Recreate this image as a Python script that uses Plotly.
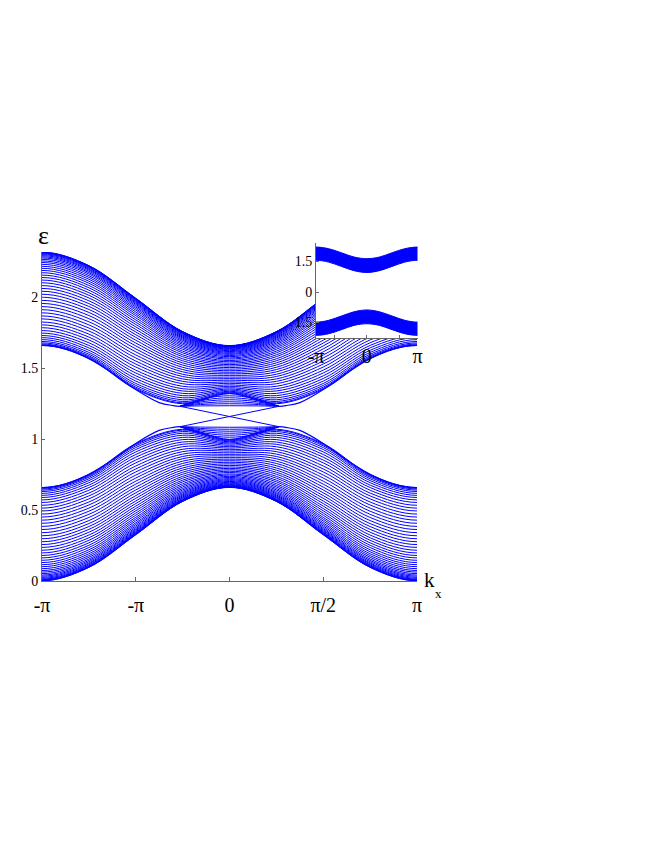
import math
import plotly.graph_objects as go

PI = math.pi

# ---------------- data ----------------
# k positions (in units of pi) where every sub-band line was read; the
# spectrum is symmetric in k, so each line is read on 0..pi and mirrored.
k_read = [0.0, 0.25, 0.5, 0.75, 1.0]

# lower band, one entry per sub-band line (top line first)
lower_k0 = [0.999, 0.997, 0.993, 0.988, 0.982, 0.974, 0.966, 0.957, 0.947, 0.937, 0.926, 0.916,
            0.904, 0.893, 0.882, 0.870, 0.859, 0.848, 0.837, 0.826, 0.815, 0.804, 0.794, 0.784,
            0.774, 0.765, 0.755, 0.747, 0.738, 0.730, 0.722, 0.715, 0.708, 0.702, 0.696, 0.690,
            0.685, 0.680, 0.676, 0.672, 0.669, 0.666, 0.664, 0.662, 0.661, 0.660]
lower_k1 = [1.070, 1.064, 1.054, 1.042, 1.028, 1.013, 0.997, 0.980, 0.964, 0.947, 0.929, 0.912,
            0.895, 0.878, 0.862, 0.845, 0.829, 0.813, 0.797, 0.782, 0.767, 0.753, 0.738, 0.725,
            0.711, 0.699, 0.686, 0.674, 0.663, 0.652, 0.642, 0.632, 0.623, 0.615, 0.607, 0.600,
            0.593, 0.587, 0.581, 0.576, 0.572, 0.569, 0.566, 0.563, 0.562, 0.561]
lower_k2 = [0.968, 0.962, 0.953, 0.941, 0.927, 0.910, 0.892, 0.873, 0.853, 0.833, 0.811, 0.790,
            0.769, 0.747, 0.726, 0.704, 0.683, 0.662, 0.642, 0.622, 0.602, 0.583, 0.564, 0.546,
            0.528, 0.511, 0.495, 0.479, 0.464, 0.449, 0.436, 0.423, 0.410, 0.399, 0.388, 0.378,
            0.369, 0.361, 0.354, 0.347, 0.342, 0.337, 0.333, 0.330, 0.327, 0.326]
lower_k3 = [0.751, 0.747, 0.740, 0.732, 0.721, 0.708, 0.693, 0.676, 0.659, 0.640, 0.620, 0.600,
            0.579, 0.557, 0.536, 0.514, 0.492, 0.470, 0.448, 0.426, 0.405, 0.384, 0.364, 0.344,
            0.324, 0.305, 0.287, 0.269, 0.252, 0.236, 0.220, 0.206, 0.192, 0.179, 0.167, 0.155,
            0.145, 0.136, 0.127, 0.120, 0.113, 0.108, 0.103, 0.100, 0.097, 0.096]
lower_k4 = [0.659, 0.655, 0.649, 0.641, 0.631, 0.618, 0.604, 0.589, 0.572, 0.554, 0.534, 0.514,
            0.494, 0.472, 0.451, 0.429, 0.407, 0.385, 0.363, 0.341, 0.319, 0.298, 0.277, 0.257,
            0.237, 0.217, 0.198, 0.180, 0.163, 0.146, 0.130, 0.115, 0.101, 0.087, 0.074, 0.063,
            0.052, 0.042, 0.034, 0.026, 0.019, 0.013, 0.009, 0.005, 0.002, 0.001]

# upper band, one entry per sub-band line (bottom line first)
upper_k0 = [1.321, 1.323, 1.327, 1.332, 1.338, 1.346, 1.354, 1.363, 1.373, 1.383, 1.394, 1.404,
            1.416, 1.427, 1.438, 1.450, 1.461, 1.472, 1.483, 1.494, 1.505, 1.516, 1.526, 1.536,
            1.546, 1.555, 1.565, 1.573, 1.582, 1.590, 1.598, 1.605, 1.612, 1.618, 1.624, 1.630,
            1.635, 1.640, 1.644, 1.648, 1.651, 1.654, 1.656, 1.658, 1.659, 1.660]
upper_k1 = [1.250, 1.256, 1.266, 1.278, 1.292, 1.307, 1.323, 1.340, 1.356, 1.373, 1.391, 1.408,
            1.425, 1.442, 1.458, 1.475, 1.491, 1.507, 1.523, 1.538, 1.553, 1.567, 1.582, 1.595,
            1.609, 1.621, 1.634, 1.646, 1.657, 1.668, 1.678, 1.688, 1.697, 1.705, 1.713, 1.720,
            1.727, 1.733, 1.739, 1.744, 1.748, 1.751, 1.754, 1.757, 1.758, 1.759]
upper_k2 = [1.352, 1.358, 1.367, 1.379, 1.393, 1.410, 1.428, 1.447, 1.467, 1.487, 1.509, 1.530,
            1.551, 1.573, 1.594, 1.616, 1.637, 1.658, 1.678, 1.698, 1.718, 1.737, 1.756, 1.774,
            1.792, 1.809, 1.825, 1.841, 1.856, 1.871, 1.884, 1.897, 1.910, 1.921, 1.932, 1.942,
            1.951, 1.959, 1.966, 1.973, 1.978, 1.983, 1.987, 1.990, 1.993, 1.994]
upper_k3 = [1.569, 1.573, 1.580, 1.588, 1.599, 1.612, 1.627, 1.644, 1.661, 1.680, 1.700, 1.720,
            1.741, 1.763, 1.784, 1.806, 1.828, 1.850, 1.872, 1.894, 1.915, 1.936, 1.956, 1.976,
            1.996, 2.015, 2.033, 2.051, 2.068, 2.084, 2.100, 2.114, 2.128, 2.141, 2.153, 2.165,
            2.175, 2.184, 2.193, 2.200, 2.207, 2.212, 2.217, 2.220, 2.223, 2.224]
upper_k4 = [1.661, 1.665, 1.671, 1.679, 1.689, 1.702, 1.716, 1.731, 1.748, 1.766, 1.786, 1.806,
            1.826, 1.848, 1.869, 1.891, 1.913, 1.935, 1.957, 1.979, 2.001, 2.022, 2.043, 2.063,
            2.083, 2.103, 2.122, 2.140, 2.157, 2.174, 2.190, 2.205, 2.219, 2.233, 2.246, 2.257,
            2.268, 2.278, 2.286, 2.294, 2.301, 2.307, 2.311, 2.315, 2.318, 2.319]

# edge-state lines: outer envelope part (k in units of pi, left half)
edge_k = [-1.125, -1.0, -0.875, -0.75, -0.625, -0.5, -0.375, -0.3, -0.264]
edge_lower = [0.683, 0.659, 0.683, 0.752, 0.853, 0.970, 1.062, 1.083, 1.088]
edge_upper = [1.637, 1.661, 1.637, 1.568, 1.467, 1.350, 1.258, 1.237, 1.232]
# straight crossing part of the two edge states
cross_k = [-0.264, 0.264]
cross_a = [1.088, 1.232]
cross_b = [1.232, 1.088]

# lens-shaped bundles near the gap (k in units of pi)
lens_k = [-0.264, -0.13, 0.0, 0.13, 0.264]
lens_lower = [[1.088, 1.085, 1.084, 1.085, 1.088],
              [1.088, 1.074, 1.070, 1.074, 1.088],
              [1.088, 1.064, 1.056, 1.064, 1.088],
              [1.088, 1.053, 1.042, 1.053, 1.088],
              [1.088, 1.043, 1.028, 1.043, 1.088],
              [1.088, 1.032, 1.014, 1.032, 1.088]]
lens_upper = [[1.232, 1.235, 1.236, 1.235, 1.232],
              [1.232, 1.246, 1.250, 1.246, 1.232],
              [1.232, 1.256, 1.264, 1.256, 1.232],
              [1.232, 1.267, 1.278, 1.267, 1.232],
              [1.232, 1.277, 1.292, 1.277, 1.232],
              [1.232, 1.288, 1.306, 1.288, 1.232]]

# inset: band edges read at k = 0, pi/4, pi/2, 3pi/4, pi
inset_up_top = [1.64, 1.72, 1.93, 2.13, 2.21]
inset_up_bot = [0.96, 1.05, 1.26, 1.47, 1.56]
inset_lo_top = [-0.88, -0.97, -1.18, -1.39, -1.48]
inset_lo_bot = [-1.56, -1.64, -1.85, -2.05, -2.13]

# axis ticks
main_xtick_vals = [-1.0, -0.5, 0.0, 0.5, 1.0]          # units of pi
main_xtick_text = ["-π", "-π", "0", "π/2", "π"]
main_ytick_vals = [0, 0.5, 1, 1.5, 2]
main_ytick_text = ["0", "0.5", "1", "1.5", "2"]
inset_xtick_vals = [-PI, -2, 0, 2, PI]
inset_xtick_text = ["-π", "", "0", "", "π"]
inset_ytick_vals = [-1.5, 0, 1.5]
inset_ytick_text = ["1.5", "0", "1.5"]

# ---------------- build figure ----------------
BLUE = "#0000ff"
FONT = "Liberation Serif"
AX = "#666666"
W, H = 654, 846
OFF = 8  # page body margin: figure is drawn 8px right/down in the window


def px(x):
    return (x - OFF) / W


def py(y):
    return 1 - (y - OFF) / H


def full_line(vals):
    """vals read at k=0,pi/4,pi/2,3pi/4,pi -> mirrored line over [-5pi/4, 5pi/4]."""
    v0, v1, v2, v3, v4 = vals
    xs = [f * PI for f in [-1.25, -1.0, -0.75, -0.5, -0.25, 0.0, 0.25, 0.5, 0.75, 1.0, 1.25]]
    ys = [v3, v4, v3, v2, v1, v0, v1, v2, v3, v4, v3]
    return xs, ys


def band_trace(cols, xaxis="x", yaxis="y"):
    X, Y = [], []
    for vals in zip(*cols):
        xs, ys = full_line(vals)
        X += xs + [None]
        Y += ys + [None]
    return go.Scatter(x=X, y=Y, mode="lines", line=dict(color=BLUE, width=1, shape="spline"),
                      hoverinfo="skip", xaxis=xaxis, yaxis=yaxis, connectgaps=False)


fig = go.Figure()
fig.add_trace(band_trace([lower_k0, lower_k1, lower_k2, lower_k3, lower_k4]))
fig.add_trace(band_trace([upper_k0, upper_k1, upper_k2, upper_k3, upper_k4]))

# edge envelopes (left and mirrored right)
for ys in (edge_lower, edge_upper):
    fig.add_trace(go.Scatter(x=[f * PI for f in edge_k], y=ys, mode="lines",
                             line=dict(color=BLUE, width=1.2, shape="spline"), hoverinfo="skip"))
    fig.add_trace(go.Scatter(x=[-f * PI for f in edge_k], y=ys, mode="lines",
                             line=dict(color=BLUE, width=1.2, shape="spline"), hoverinfo="skip"))
for ys in (cross_a, cross_b):
    fig.add_trace(go.Scatter(x=[f * PI for f in cross_k], y=ys, mode="lines",
                             line=dict(color=BLUE, width=1), hoverinfo="skip"))
for group in (lens_lower, lens_upper):
    X, Y = [], []
    for ys in group:
        X += [f * PI for f in lens_k] + [None]
        Y += ys + [None]
    fig.add_trace(go.Scatter(x=X, y=Y, mode="lines", line=dict(color=BLUE, width=1, shape="spline"),
                             hoverinfo="skip"))

# inset bands as filled regions between their edges
for bot, top in ((inset_up_bot, inset_up_top), (inset_lo_bot, inset_lo_top)):
    xb, yb = full_line(bot)
    xt, yt = full_line(top)
    fig.add_trace(go.Scatter(x=xb, y=yb, mode="lines", line=dict(color=BLUE, width=1, shape="spline"),
                             xaxis="x2", yaxis="y2", hoverinfo="skip"))
    fig.add_trace(go.Scatter(x=xt, y=yt, mode="lines", line=dict(color=BLUE, width=1, shape="spline"),
                             fill="tonexty", fillcolor=BLUE, xaxis="x2", yaxis="y2", hoverinfo="skip"))

common = dict(ticks="inside", tickcolor=AX, showline=True, linecolor=AX, linewidth=1,
              showgrid=False, zeroline=False, automargin=False)
fig.update_layout(
    template="none",
    width=W, height=H, autosize=False,
    margin=dict(l=0, r=0, t=0, b=0, pad=0),
    paper_bgcolor="white", plot_bgcolor="white",
    showlegend=False,
    font=dict(family=FONT, color="black"),
    xaxis=dict(domain=[px(42), px(417)], range=[-PI, PI],
               tickvals=[v * PI for v in main_xtick_vals], ticktext=main_xtick_text,
               ticklen=4, tickfont=dict(family=FONT, size=20, color="black"),
               ticklabelstandoff=6, **common),
    yaxis=dict(domain=[py(581), py(252)], range=[0, 2.32],
               tickvals=main_ytick_vals, ticktext=main_ytick_text,
               ticklen=3, tickfont=dict(family=FONT, size=14, color="black"), **common),
    xaxis2=dict(domain=[px(316), px(417.5)], range=[-PI, PI], anchor="y2",
                tickvals=inset_xtick_vals, ticktext=inset_xtick_text,
                ticklen=3, tickfont=dict(family=FONT, size=20, color="black"), **common),
    yaxis2=dict(domain=[py(338), py(243)], range=[-2.26, 2.41], anchor="x2",
                tickvals=inset_ytick_vals, ticktext=inset_ytick_text,
                ticklen=3, tickfont=dict(family=FONT, size=14, color="black"), **common),
    annotations=[
        dict(text="ε", x=px(43), y=py(236), xref="paper", yref="paper", showarrow=False,
             xanchor="center", yanchor="middle", font=dict(family=FONT, size=26, color="black")),
        dict(text="k", x=px(429), y=py(580), xref="paper", yref="paper", showarrow=False,
             xanchor="center", yanchor="middle", font=dict(family=FONT, size=21, color="black")),
        dict(text="x", x=px(438), y=py(593), xref="paper", yref="paper", showarrow=False,
             xanchor="center", yanchor="middle", font=dict(family=FONT, size=13, color="black")),
    ],
)

fig.write_html("out.html")
